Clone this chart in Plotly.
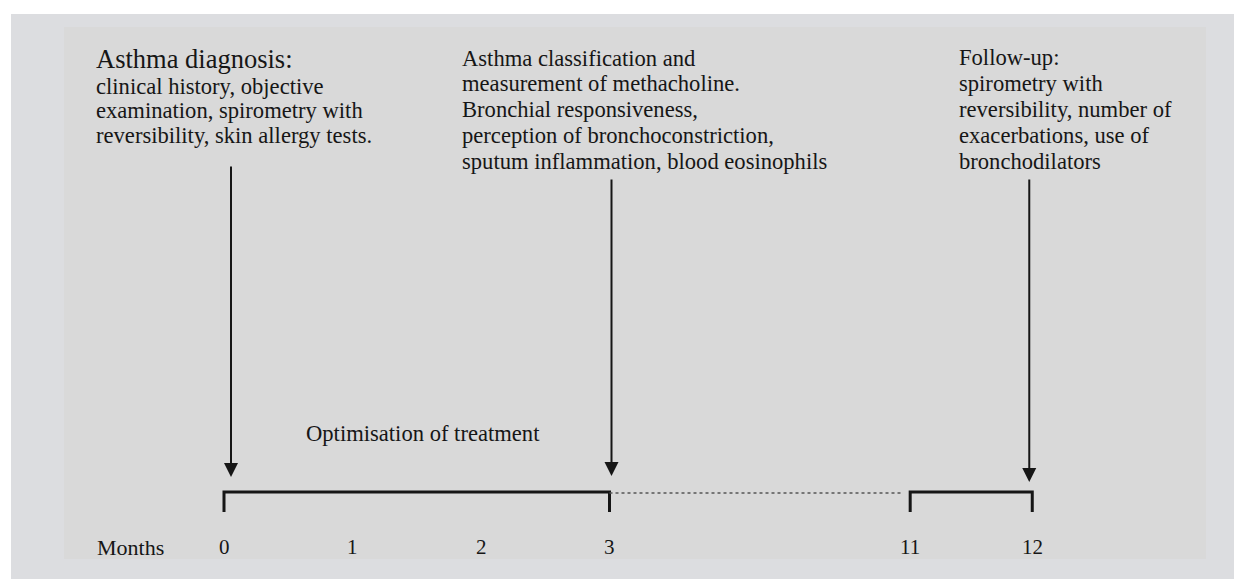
import plotly.graph_objects as go

# ---------------- data ----------------
month_ticks = [0, 1, 2, 3, 11, 12]
tick_labels = ["0", "1", "2", "3", "11", "12"]
solid_segments = [(0, 3), (11, 12)]
dotted_segment = (3, 11)
milestone_months = [0, 3, 12]
milestone_titles = ["Asthma diagnosis:", "", ""]
milestone_texts = [
    ["clinical history, objective", "examination, spirometry with", "reversibility, skin allergy tests."],
    ["Asthma classification and", "measurement of methacholine.", "Bronchial responsiveness,",
     "perception of bronchoconstriction,", "sputum inflammation, blood eosinophils"],
    ["Follow-up:", "spirometry with", "reversibility, number of", "exacerbations, use of", "bronchodilators"],
]
period_label = "Optimisation of treatment"
axis_label = "Months"

# ---------------- layout helpers (broken time axis) ----------------
GAP = 2.34         # compressed width of the 3 -> 11 month break
LATE_SCALE = 0.95  # width of one month after the break


def pos(m):
    return m if m <= 3 else 3 + GAP + (m - 11) * LATE_SCALE


OFF = 8                      # page body margin
W, H = 1242 - OFF, 579 - OFF
PX = 128.5                   # pixels per axis unit
X0 = 224 - OFF               # pixel of month 0 inside the figure
x_range = [-X0 / PX, (W - X0) / PX]


def ux(px):   # screen pixel -> axis unit
    return (px - OFF - X0) / PX


def uy(py):   # screen pixel -> y coordinate
    return py - OFF


FONT = "Liberation Serif, Times New Roman, serif"
INK = "#161616"
BODY = 22.6

LINE_Y = uy(492)
TICK_Y = uy(512)
LABEL_Y = uy(547)

fig = go.Figure()

# backgrounds
fig.add_shape(type="rect", xref="paper", yref="paper", x0=(11 - OFF) / W, x1=1, y0=0, y1=1 - (14 - OFF) / H,
              fillcolor="#dcdde0", line_width=0, layer="below")
fig.add_shape(type="rect", xref="paper", yref="paper", x0=(64 - OFF) / W, x1=(1206 - OFF) / W,
              y0=1 - (559 - OFF) / H, y1=1 - (27 - OFF) / H,
              fillcolor="#d9d9d9", line_width=0, layer="below")

# solid timeline segments with end ticks
for a, b in solid_segments:
    fig.add_trace(go.Scatter(x=[pos(a), pos(a), pos(b), pos(b)], y=[TICK_Y, LINE_Y, LINE_Y, TICK_Y],
                             mode="lines", line=dict(color=INK, width=3), hoverinfo="skip", showlegend=False))
# dotted break
a, b = dotted_segment
fig.add_trace(go.Scatter(x=[pos(a), pos(b) - 0.055], y=[LINE_Y + 1, LINE_Y + 1], mode="lines",
                         line=dict(color="#555555", width=1.5, dash="dot"), hoverinfo="skip", showlegend=False))

# month labels
for m, t in zip(month_ticks, tick_labels):
    fig.add_annotation(x=pos(m), y=LABEL_Y, text=t, showarrow=False, xanchor="center", yanchor="middle",
                       borderpad=0, font=dict(family=FONT, size=21, color=INK))
fig.add_annotation(x=ux(96), y=LABEL_Y, text=axis_label, showarrow=False, xanchor="left",
                   yanchor="middle", borderpad=0, font=dict(family=FONT, size=22, color=INK))

# arrows
arrow_tops = [165, 178, 178]
arrow_tips = [477, 476, 482]
arrow_shift = [7, 2, -3]
for m, top, tip, sh in zip(milestone_months, arrow_tops, arrow_tips, arrow_shift):
    xp = pos(m) + sh / PX
    fig.add_annotation(x=xp, y=uy(tip), ax=xp, ay=uy(top), axref="x", ayref="y", text="", showarrow=True,
                       arrowhead=2, arrowsize=1.4, arrowwidth=2, arrowcolor=INK, standoff=0)

# milestone texts (one annotation per line, reference line pitch ~25-26px)
text_left_px = [95, 461, 958]
first_line_y = [86, 58, 57]
pitch = [24.8, 25.8, 26.2]
for title, lines, lx, y0, p in zip(milestone_titles, milestone_texts, text_left_px, first_line_y, pitch):
    if title:
        fig.add_annotation(x=ux(lx), y=uy(58.5), text=title, showarrow=False, xanchor="left", yanchor="middle",
                           borderpad=0, font=dict(family=FONT, size=26.5, color=INK))
    for i, line in enumerate(lines):
        fig.add_annotation(x=ux(lx), y=uy(y0 + i * p), text=line, showarrow=False, xanchor="left",
                           yanchor="middle", borderpad=0, font=dict(family=FONT, size=BODY, color=INK))

fig.add_annotation(x=ux(305), y=uy(433), text=period_label, showarrow=False, xanchor="left",
                   yanchor="middle", borderpad=0, font=dict(family=FONT, size=BODY, color=INK))

fig.update_layout(
    width=W, height=H, margin=dict(l=0, r=0, t=0, b=0),
    paper_bgcolor="white", plot_bgcolor="rgba(0,0,0,0)",
    xaxis=dict(range=x_range, visible=False, fixedrange=True),
    yaxis=dict(range=[H, 0], visible=False, fixedrange=True),
    showlegend=False,
)

fig.write_html("out.html")
